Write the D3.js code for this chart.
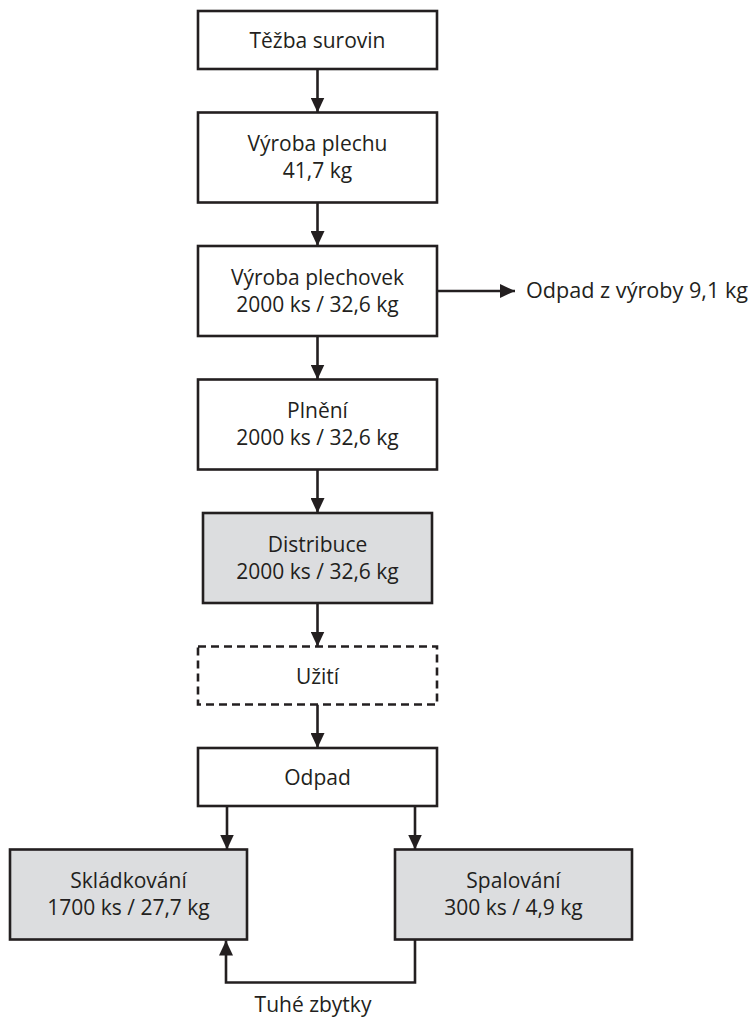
<!DOCTYPE html>
<html>
<head>
<meta charset="utf-8">
<script src="https://cdn.jsdelivr.net/npm/d3@7"></script>
<style>
  html, body { margin: 0; padding: 0; background: #fff; }
  svg { display: block; }
  text { font-family: "Open Sans", "Noto Sans", sans-serif; fill: #231f20; }
</style>
</head>
<body>
<svg id="chart" width="751" height="1019"></svg>
<script>
// ---- data ----
const stepNames = ["Těžba surovin", "Výroba plechu", "Výroba plechovek", "Plnění", "Distribuce", "Užití", "Odpad"];
const stepValues = ["", "41,7 kg", "2000 ks / 32,6 kg", "2000 ks / 32,6 kg", "2000 ks / 32,6 kg", "", ""];
const stepKinds = ["plain", "plain", "plain", "plain", "shaded", "dashed", "plain"];
const endNames = ["Skládkování", "Spalování"];
const endValues = ["1700 ks / 27,7 kg", "300 ks / 4,9 kg"];
const sideLabel = "Odpad z výroby 9,1 kg";
const returnLabel = "Tuhé zbytky";

// ---- layout ----
const svg = d3.select("#chart");
const ink = "#231f20";
const gray = "#dcdddf";
const sw = 2.6;
const fontSize = 21;
const lineGap = 27;
const gap = 43.5;
const singleH = 58, doubleH = 90;
const boxW = 239, cx = 317.5;

const defs = svg.append("defs");
defs.append("marker")
  .attr("id", "arrow").attr("viewBox", "0 0 15 14")
  .attr("refX", 15).attr("refY", 7)
  .attr("markerWidth", 15).attr("markerHeight", 14)
  .attr("markerUnits", "userSpaceOnUse")
  .attr("orient", "auto")
  .append("path").attr("d", "M0,0 L15,7 L0,14 Z").attr("fill", ink);

// compute rows
let y = 11;
const steps = stepNames.map((name, i) => {
  const h = stepValues[i] ? doubleH : singleH;
  const s = { name, value: stepValues[i], kind: stepKinds[i], top: y, h };
  y += h + gap;
  return s;
});
const bottomTop = y;
const endW = 237;
const endBoxes = endNames.map((name, i) => ({
  name, value: endValues[i], kind: "shaded",
  x: i === 0 ? 10 : 395, top: bottomTop, h: doubleH, w: endW
}));

function drawBox(g, x, top, w, h, kind) {
  g.append("rect")
    .attr("x", x).attr("y", top).attr("width", w).attr("height", h)
    .attr("fill", kind === "shaded" ? gray : "#fff")
    .attr("stroke", ink).attr("stroke-width", sw)
    .attr("stroke-dasharray", kind === "dashed" ? "8,5" : null);
}
function drawText(g, xc, top, h, name, value) {
  const mid = top + h / 2;
  if (value) {
    g.append("text").attr("x", xc).attr("y", mid - lineGap / 2).attr("dy", "0.35em")
      .attr("text-anchor", "middle").attr("font-size", fontSize).text(name);
    g.append("text").attr("x", xc).attr("y", mid + lineGap / 2).attr("dy", "0.35em")
      .attr("text-anchor", "middle").attr("font-size", fontSize).text(value);
  } else {
    g.append("text").attr("x", xc).attr("y", mid + 1).attr("dy", "0.35em")
      .attr("text-anchor", "middle").attr("font-size", fontSize).text(name);
  }
}

const links = svg.append("g");
const boxes = svg.append("g");

steps.forEach((s, i) => {
  const inset = s.kind === "shaded" ? 5 : 0;
  drawBox(boxes, cx - boxW / 2 + inset, s.top, boxW - 2 * inset, s.h, s.kind);
  drawText(boxes, cx, s.top, s.h, s.name, s.value);
  if (i < steps.length - 1) {
    links.append("line")
      .attr("x1", cx).attr("x2", cx)
      .attr("y1", s.top + s.h).attr("y2", steps[i + 1].top)
      .attr("stroke", ink).attr("stroke-width", sw)
      .attr("marker-end", "url(#arrow)");
  }
});

// side branch from "Výroba plechovek"
const s3 = steps[2];
const sideY = s3.top + s3.h / 2;
links.append("line")
  .attr("x1", cx + boxW / 2).attr("x2", 515)
  .attr("y1", sideY).attr("y2", sideY)
  .attr("stroke", ink).attr("stroke-width", sw)
  .attr("marker-end", "url(#arrow)");
svg.append("text").attr("x", 526).attr("y", sideY).attr("dy", "0.35em")
  .attr("font-size", fontSize).attr("textLength", 222).attr("lengthAdjust", "spacingAndGlyphs")
  .text(sideLabel);

// end boxes
const odpad = steps[steps.length - 1];
const leftArrowX = endBoxes[0].x + endW - 20;
const rightArrowX = endBoxes[1].x + 20;
endBoxes.forEach(b => {
  drawBox(boxes, b.x, b.top, b.w, b.h, b.kind);
  drawText(boxes, b.x + b.w / 2, b.top, b.h, b.name, b.value);
});
[leftArrowX, rightArrowX].forEach(x => {
  links.append("line")
    .attr("x1", x).attr("x2", x)
    .attr("y1", odpad.top + odpad.h).attr("y2", bottomTop)
    .attr("stroke", ink).attr("stroke-width", sw)
    .attr("marker-end", "url(#arrow)");
});

// return loop
const loopY = bottomTop + doubleH + 43;
links.append("path")
  .attr("d", d3.line()([[rightArrowX, bottomTop + doubleH], [rightArrowX, loopY], [leftArrowX - 1, loopY], [leftArrowX - 1, bottomTop + doubleH + 1]]))
  .attr("fill", "none").attr("stroke", ink).attr("stroke-width", sw)
  .attr("marker-end", "url(#arrow)");
svg.append("text").attr("x", 313).attr("y", 1005).attr("dy", "0.35em")
  .attr("text-anchor", "middle").attr("font-size", fontSize).text(returnLabel);
</script>
</body>
</html>
